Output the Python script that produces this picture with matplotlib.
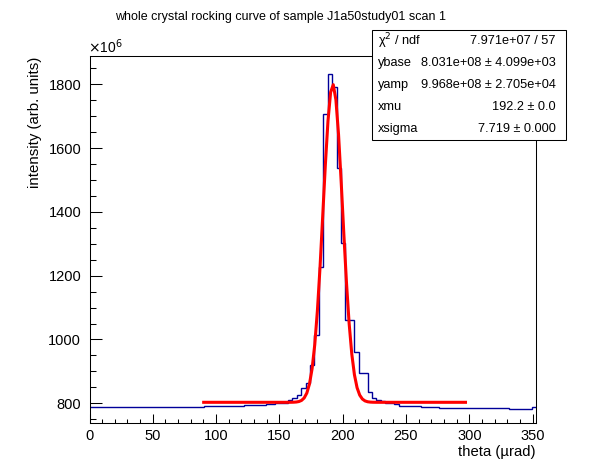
import numpy as np

import matplotlib
matplotlib.use('Agg')
import matplotlib.pyplot as plt
from matplotlib.patches import Rectangle
from matplotlib.ticker import MultipleLocator

plt.rcParams['font.family'] = ['Liberation Sans', 'DejaVu Sans']

# histogram (intensity in units of 1e6), first wide bin then 3.5 urad bins
first_bin_edges = [0.0, 90.2]
first_bin_value = 787.5
bin_width = 3.5
counts = [790.6] * 9 + [793.7] * 5 + [797, 797] + [800.5] * 3 + [
    809, 816, 825, 847, 865, 920, 1015, 1228, 1707, 1831,
    1791, 1537, 1302, 1062, 1060, 962, 896, 895, 834, 817,
    810, 808, 801, 800, 797] + [793] * 5 + [789.5] * 4 + [786.5] * 16 + [783.5] * 5 + [788]

# fit result: ybase + yamp * gaus(xmu, xsigma)
fit_ybase = 803.1
fit_yamp = 996.8
fit_xmu = 192.2
fit_xsigma = 7.719
fit_range = [90.2, 297.0]

stats_labels = ["χ$^{2}$ / ndf", "ybase", "yamp", "xmu", "xsigma"]
stats_values = ["7.971e+07 / 57", "8.031e+08 ± 4.099e+03", "9.968e+08 ± 2.705e+04",
                "192.2 ± 0.0", "7.719 ± 0.000"]

W, H = 596, 472
fig = plt.figure(figsize=(W / 100, H / 100), dpi=100)
ax = fig.add_axes([89.5 / W, 1 - 423.3 / H, (536 - 89.5) / W, (423.3 - 56) / H])

edges = np.concatenate((first_bin_edges, first_bin_edges[1] + bin_width * np.arange(1, len(counts) + 1)))
values = np.concatenate(([first_bin_value], counts))
ax.stairs(values, edges, baseline=None, color='#000099', linewidth=1.0)

xf = np.linspace(fit_range[0], fit_range[1], 100)
yf = fit_ybase + fit_yamp * np.exp(-0.5 * ((xf - fit_xmu) / fit_xsigma) ** 2)
ax.plot(xf, yf, color='#ff0000', linewidth=2.2)

ax.set_xlim(edges[0], edges[-1])
ax.set_ylim(737.3, 1888.7)

ax.xaxis.set_major_locator(MultipleLocator(50))
ax.xaxis.set_minor_locator(MultipleLocator(10))
ax.yaxis.set_major_locator(MultipleLocator(200))
ax.yaxis.set_minor_locator(MultipleLocator(50))
ax.tick_params(axis='x', which='major', direction='in', length=6.3, width=0.75, pad=4, labelsize=10.5)
ax.tick_params(axis='x', which='minor', direction='in', length=3.1, width=0.75)
ax.tick_params(axis='y', which='major', direction='in', length=8.6, width=0.75, pad=6, labelsize=10.5)
ax.tick_params(axis='y', which='minor', direction='in', length=4.3, width=0.75)
for s in ax.spines.values():
    s.set_linewidth(0.75)

fig.text(281 / W, 1 - 17 / H, "whole crystal rocking curve of sample J1a50study01 scan 1",
         ha='center', va='center', fontsize=9)
fig.text(536 / W, 1 - 452 / H, "theta (µrad)", ha='right', va='center', fontsize=10.7)
fig.text(35 / W, 1 - 57 / H, "intensity (arb. units)", rotation=90, ha='center', va='top', fontsize=10.8)
fig.text(88 / W, 1 - 47 / H, r"$\times$10$^{6}$", ha='left', va='center', fontsize=10)

# stats box
bx0, bx1, by0, by1 = 372, 566, 30, 140
fig.patches.append(Rectangle((bx0 / W, 1 - by1 / H), (bx1 - bx0) / W, (by1 - by0) / H,
                             transform=fig.transFigure, facecolor='white', edgecolor='black',
                             linewidth=0.75, zorder=5))
row_h = (by1 - by0) / len(stats_labels)
for i, (lab, val) in enumerate(zip(stats_labels, stats_values)):
    yc = 1 - (by0 + row_h * (i + 0.5)) / H
    fig.text(378 / W, yc, lab, ha='left', va='center', fontsize=9.2, zorder=6)
    fig.text(556 / W, yc, val, ha='right', va='center', fontsize=9.2, zorder=6)

fig.savefig("out.png", dpi=100)
